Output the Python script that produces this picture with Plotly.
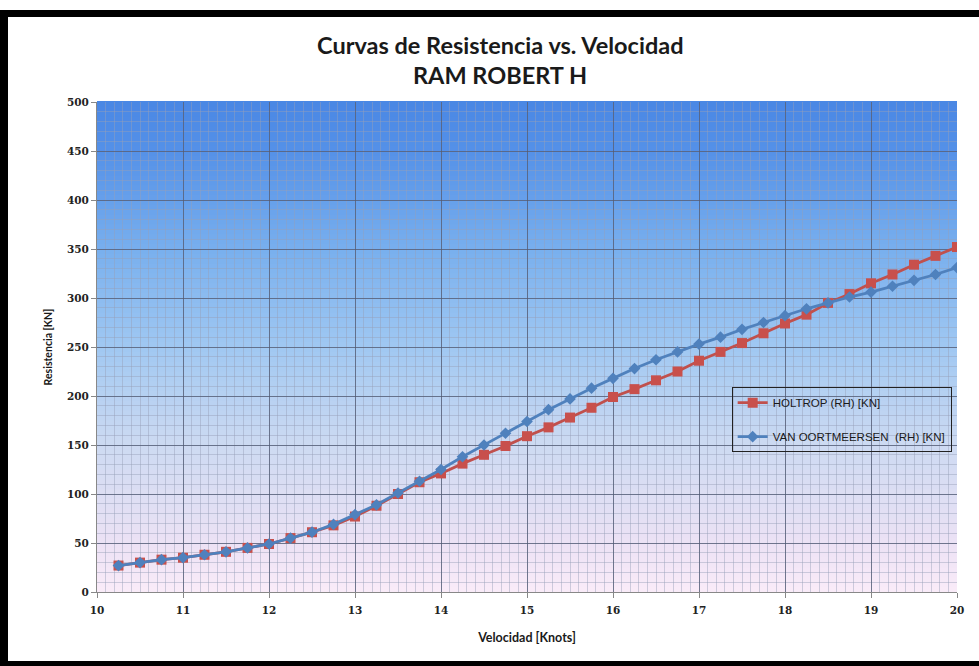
import plotly.graph_objects as go

# ---- data ----
velocidad = [10.25, 10.5, 10.75, 11.0, 11.25, 11.5, 11.75, 12.0, 12.25, 12.5,
             12.75, 13.0, 13.25, 13.5, 13.75, 14.0, 14.25, 14.5, 14.75, 15.0,
             15.25, 15.5, 15.75, 16.0, 16.25, 16.5, 16.75, 17.0, 17.25, 17.5,
             17.75, 18.0, 18.25, 18.5, 18.75, 19.0, 19.25, 19.5, 19.75, 20.0]
holtrop = [27, 30, 33, 35, 38, 41, 45, 49, 55, 61,
           68, 77, 88, 100, 112, 121, 131, 140, 149, 159,
           168, 178, 188, 199, 207, 216, 225, 236, 245, 254,
           264, 274, 283, 295, 304, 315, 324, 334, 343, 352]
van_oortmeersen = [27, 30, 33, 35, 38, 41, 45, 49, 55, 61,
                   69, 79, 89, 101, 113, 125, 138, 150, 162, 174,
                   186, 197, 208, 218, 228, 237, 245, 253, 260, 268,
                   275, 282, 289, 295, 301, 306, 312, 318, 324, 331]
x_ticks = [10, 11, 12, 13, 14, 15, 16, 17, 18, 19, 20]
y_ticks = [0, 50, 100, 150, 200, 250, 300, 350, 400, 450, 500]

fig = go.Figure()
fig.add_trace(go.Scatter(
    x=velocidad, y=holtrop, mode="lines+markers", name="HOLTROP (RH) [KN]",
    legendgroup="a",
    line=dict(color="#c0504d", width=2.8),
    marker=dict(symbol="square", size=10, color="#c8504c")))
fig.add_trace(go.Scatter(
    x=velocidad, y=van_oortmeersen, mode="lines+markers",
    name="VAN OORTMEERSEN  (RH) [KN]", legendgroup="b",
    line=dict(color="#4f81bd", width=2.8),
    marker=dict(symbol="diamond", size=9, color="#4f81bd")))

# ---- gradient background (style) ----
stops = [(0.0, (250, 235, 248)), (0.1, (236, 226, 245)), (0.3, (205, 218, 242)),
         (0.5, (160, 200, 242)), (0.7, (120, 175, 238)), (0.9, (85, 145, 232)),
         (1.0, (74, 135, 228))]

def col(t):
    for (t0, c0), (t1, c1) in zip(stops[:-1], stops[1:]):
        if t0 <= t <= t1:
            f = (t - t0) / (t1 - t0)
            return "rgb(%d,%d,%d)" % tuple(round(a + (b - a) * f) for a, b in zip(c0, c1))
    return "rgb(%d,%d,%d)" % stops[-1][1]

shapes = []
N = 100
for i in range(N):
    shapes.append(dict(type="rect", xref="x domain", yref="y domain",
                       x0=0, x1=1, y0=i / N, y1=(i + 1) / N + 0.002,
                       fillcolor=col((i + 0.5) / N), line=dict(width=0),
                       layer="below"))

# ---- outer black frame (style) ----
W, H = 979, 666
frame = [(0, 10, 979, 17), (0, 10, 8, 666), (0, 661, 979, 666)]
for x0, y0, x1, y1 in frame:
    shapes.append(dict(type="rect", xref="paper", yref="paper",
                       x0=(x0 - 97) / 860, x1=(x1 - 97) / 860,
                       y0=(592 - y1) / 490, y1=(592 - y0) / 490,
                       fillcolor="black", line=dict(width=0), layer="above"))

title_font = dict(family="Lato, Open Sans, sans-serif", size=23.5, color="#1a1a1a")
annotations = [
    dict(text="<b>Curvas de Resistencia vs. Velocidad</b>", xref="paper", yref="paper",
         x=(500 - 97) / 860, y=(592 - 45) / 490, showarrow=False, font=title_font,
         xanchor="center", yanchor="middle"),
    dict(text="<b>RAM ROBERT H</b>", xref="paper", yref="paper",
         x=(500 - 97) / 860, y=(592 - 75) / 490, showarrow=False, font=title_font,
         xanchor="center", yanchor="middle"),
]

tick_font = dict(family="DejaVu Serif, serif", size=10.5, color="#222222", weight="bold")
fig.update_layout(
    width=W, height=H,
    margin=dict(l=97, r=22, t=102, b=74),
    paper_bgcolor="white", plot_bgcolor="rgba(0,0,0,0)",
    shapes=shapes, annotations=annotations,
    legend=dict(x=0.738, y=0.418, xanchor="left", yanchor="top",
                bgcolor="rgba(0,0,0,0)", bordercolor="#222222", borderwidth=1,
                font=dict(family="Liberation Sans, Arial, sans-serif", size=11.5, color="#1a1a1a"),
                tracegroupgap=15, traceorder="grouped", itemwidth=30),
    xaxis=dict(range=[10, 20], tickvals=x_ticks, ticktext=[str(v) for v in x_ticks],
               tickfont=tick_font, ticks="outside", ticklen=5, tickcolor="#888888",
               ticklabelstandoff=3,
               showline=True, linecolor="#888888", linewidth=1,
               showgrid=True, gridcolor="rgba(80,90,115,0.75)", gridwidth=1,
               zeroline=False,
               minor=dict(dtick=0.1, showgrid=True, gridcolor="rgba(150,160,185,0.45)", gridwidth=1),
               title=dict(text="<b>Velocidad [Knots]</b>", standoff=18,
                          font=dict(family="Lato, Open Sans, sans-serif", size=12.5, color="#1a1a1a"))),
    yaxis=dict(range=[0, 500], tickvals=y_ticks, ticktext=[str(v) for v in y_ticks],
               tickfont=tick_font, ticks="outside", ticklen=5, tickcolor="#888888",
               showline=True, linecolor="#888888", linewidth=1,
               showgrid=True, gridcolor="rgba(80,90,115,0.75)", gridwidth=1,
               zeroline=False,
               minor=dict(dtick=10, showgrid=True, gridcolor="rgba(150,160,185,0.45)", gridwidth=1),
               title=dict(text="<b>Resistencia [KN]</b>", standoff=12,
                          font=dict(family="Lato, Open Sans, sans-serif", size=10.5, color="#1a1a1a"))),
    showlegend=True,
)

fig.write_html("out.html", config={"displayModeBar": False},
               post_script="document.body.style.margin='0';document.body.style.overflow='hidden';")
